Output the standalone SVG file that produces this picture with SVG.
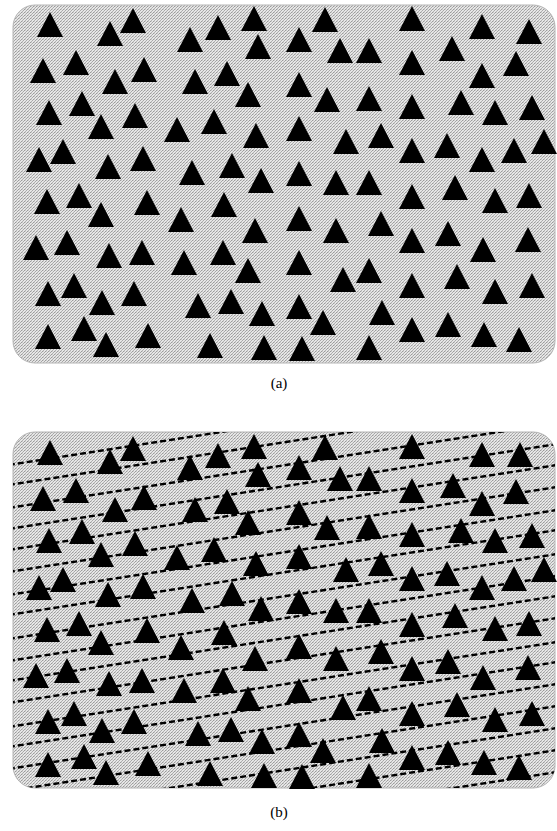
<svg xmlns="http://www.w3.org/2000/svg" xmlns:xlink="http://www.w3.org/1999/xlink" width="557" height="831" viewBox="0 0 557 831">
<style>
.panel{fill:url(#dots);stroke:#b4b4b4;stroke-width:1}
.tri{fill:#000}
.dl{stroke:#000;stroke-width:2.4;stroke-dasharray:6 3;fill:none}
.lbl{font-family:"Liberation Serif","Times New Roman",serif;font-size:15px;fill:#000;text-anchor:middle}
</style>
<defs>
<pattern id="dots" width="3" height="3" patternUnits="userSpaceOnUse">
<rect width="3" height="3" fill="#e6e6e6"/>
<rect x="0" y="0" width="1" height="1" fill="#9a9a9a"/>
<rect x="2" y="1" width="1" height="1" fill="#a8a8a8"/>
<rect x="1" y="2" width="1" height="1" fill="#b0b0b0"/>
<rect x="1" y="0" width="1" height="1" fill="#d0d0d0"/>
</pattern>
<path id="t" d="M0,0 L13,25 L-13,25 Z"/>
<clipPath id="clipB"><rect x="13" y="432" width="542" height="356" rx="22"/></clipPath>
<g id="field" class="tri">
<use href="#t" x="50" y="12"/><use href="#t" x="110" y="21"/><use href="#t" x="133" y="8"/><use href="#t" x="43" y="58"/>
<use href="#t" x="76" y="50"/><use href="#t" x="115" y="69"/><use href="#t" x="144" y="57"/><use href="#t" x="49" y="100"/>
<use href="#t" x="82" y="91"/><use href="#t" x="101" y="114"/><use href="#t" x="135" y="103"/><use href="#t" x="177" y="117"/>
<use href="#t" x="39" y="147"/><use href="#t" x="63" y="139"/><use href="#t" x="108" y="154"/><use href="#t" x="143" y="146"/>
<use href="#t" x="218" y="15"/><use href="#t" x="254" y="6"/><use href="#t" x="325" y="7"/><use href="#t" x="190" y="27"/>
<use href="#t" x="258" y="34"/><use href="#t" x="299" y="27"/><use href="#t" x="340" y="38"/><use href="#t" x="369" y="38"/>
<use href="#t" x="227" y="61"/><use href="#t" x="195" y="69"/><use href="#t" x="248" y="82"/><use href="#t" x="299" y="72"/>
<use href="#t" x="327" y="87"/><use href="#t" x="369" y="86"/><use href="#t" x="214" y="109"/><use href="#t" x="256" y="123"/>
<use href="#t" x="299" y="116"/><use href="#t" x="346" y="129"/><use href="#t" x="232" y="153"/><use href="#t" x="192" y="160"/>
<use href="#t" x="261" y="168"/><use href="#t" x="299" y="161"/><use href="#t" x="336" y="170"/>
<use href="#t" x="412" y="6"/><use href="#t" x="482" y="14"/><use href="#t" x="412" y="50"/><use href="#t" x="516" y="51"/>
<use href="#t" x="482" y="63"/><use href="#t" x="412" y="94"/><use href="#t" x="461" y="90"/><use href="#t" x="495" y="100"/>
<use href="#t" x="532" y="95"/><use href="#t" x="381" y="123"/><use href="#t" x="412" y="138"/><use href="#t" x="447" y="133"/>
<use href="#t" x="482" y="147"/><use href="#t" x="514" y="138"/><use href="#t" x="544" y="129"/><use href="#t" x="369" y="170"/>
<use href="#t" x="412" y="184"/><use href="#t" x="455" y="175"/><use href="#t" x="495" y="188"/><use href="#t" x="529" y="183"/>
<use href="#t" x="381" y="211"/><use href="#t" x="412" y="228"/><use href="#t" x="448" y="221"/><use href="#t" x="483" y="237"/>
<use href="#t" x="528" y="227"/><use href="#t" x="369" y="258"/><use href="#t" x="412" y="273"/><use href="#t" x="457" y="264"/>
<use href="#t" x="495" y="279"/><use href="#t" x="532" y="273"/><use href="#t" x="382" y="300"/><use href="#t" x="412" y="317"/>
<use href="#t" x="448" y="312"/><use href="#t" x="484" y="322"/><use href="#t" x="519" y="327"/><use href="#t" x="369" y="335"/>
<use href="#t" x="224" y="192"/><use href="#t" x="181" y="207"/><use href="#t" x="255" y="218"/><use href="#t" x="299" y="206"/>
<use href="#t" x="336" y="218"/><use href="#t" x="223" y="240"/><use href="#t" x="184" y="250"/><use href="#t" x="248" y="258"/>
<use href="#t" x="299" y="250"/><use href="#t" x="343" y="267"/><use href="#t" x="198" y="293"/><use href="#t" x="231" y="289"/>
<use href="#t" x="262" y="301"/><use href="#t" x="299" y="294"/><use href="#t" x="323" y="310"/><use href="#t" x="210" y="333"/>
<use href="#t" x="264" y="335"/><use href="#t" x="302" y="336"/>
<use href="#t" x="47" y="189"/><use href="#t" x="79" y="183"/><use href="#t" x="101" y="202"/><use href="#t" x="147" y="190"/>
<use href="#t" x="36" y="235"/><use href="#t" x="67" y="230"/><use href="#t" x="109" y="243"/><use href="#t" x="142" y="240"/>
<use href="#t" x="48" y="281"/><use href="#t" x="74" y="273"/><use href="#t" x="102" y="290"/><use href="#t" x="134" y="281"/>
<use href="#t" x="48" y="324"/><use href="#t" x="84" y="316"/><use href="#t" x="106" y="332"/><use href="#t" x="148" y="323"/>
</g>
</defs>
<rect width="557" height="831" fill="#fff"/>
<g id="panel-a">
<rect class="panel" x="13" y="5" width="542" height="358" rx="22"/>
<use href="#field"/>
<g class="tri"><use href="#t" x="529" y="19"/><use href="#t" x="452" y="36"/></g>
<text class="lbl" x="279" y="388">(a)</text>
</g>
<g id="panel-b">
<rect class="panel" x="13" y="432" width="542" height="356" rx="22"/>
<g id="connectors" clip-path="url(#clipB)">
<line class="dl" x1="0" y1="466.3" x2="557" y2="380"/>
<line class="dl" x1="0" y1="486.3" x2="557" y2="400"/>
<line class="dl" x1="0" y1="509.3" x2="557" y2="423"/>
<line class="dl" x1="0" y1="530.3" x2="557" y2="444"/>
<line class="dl" x1="0" y1="551.3" x2="557" y2="465"/>
<line class="dl" x1="0" y1="573.3" x2="557" y2="487"/>
<line class="dl" x1="0" y1="596.3" x2="557" y2="510"/>
<line class="dl" x1="0" y1="616.3" x2="557" y2="530"/>
<line class="dl" x1="0" y1="640.3" x2="557" y2="554"/>
<line class="dl" x1="0" y1="662.3" x2="557" y2="576"/>
<line class="dl" x1="0" y1="682.3" x2="557" y2="596"/>
<line class="dl" x1="0" y1="704.3" x2="557" y2="618"/>
<line class="dl" x1="0" y1="728.3" x2="557" y2="642"/>
<line class="dl" x1="0" y1="748.3" x2="557" y2="662"/>
<line class="dl" x1="0" y1="770.3" x2="557" y2="684"/>
<line class="dl" x1="0" y1="792.3" x2="557" y2="706"/>
<line class="dl" x1="0" y1="814.3" x2="557" y2="728"/>
<line class="dl" x1="0" y1="836.3" x2="557" y2="750"/>
<line class="dl" x1="0" y1="858.3" x2="557" y2="772"/>
</g>
<use href="#field" y="428"/>
<g class="tri"><use href="#t" x="520" y="442"/><use href="#t" x="453" y="473"/></g>
<text class="lbl" x="279" y="817">(b)</text>
</g>
</svg>
